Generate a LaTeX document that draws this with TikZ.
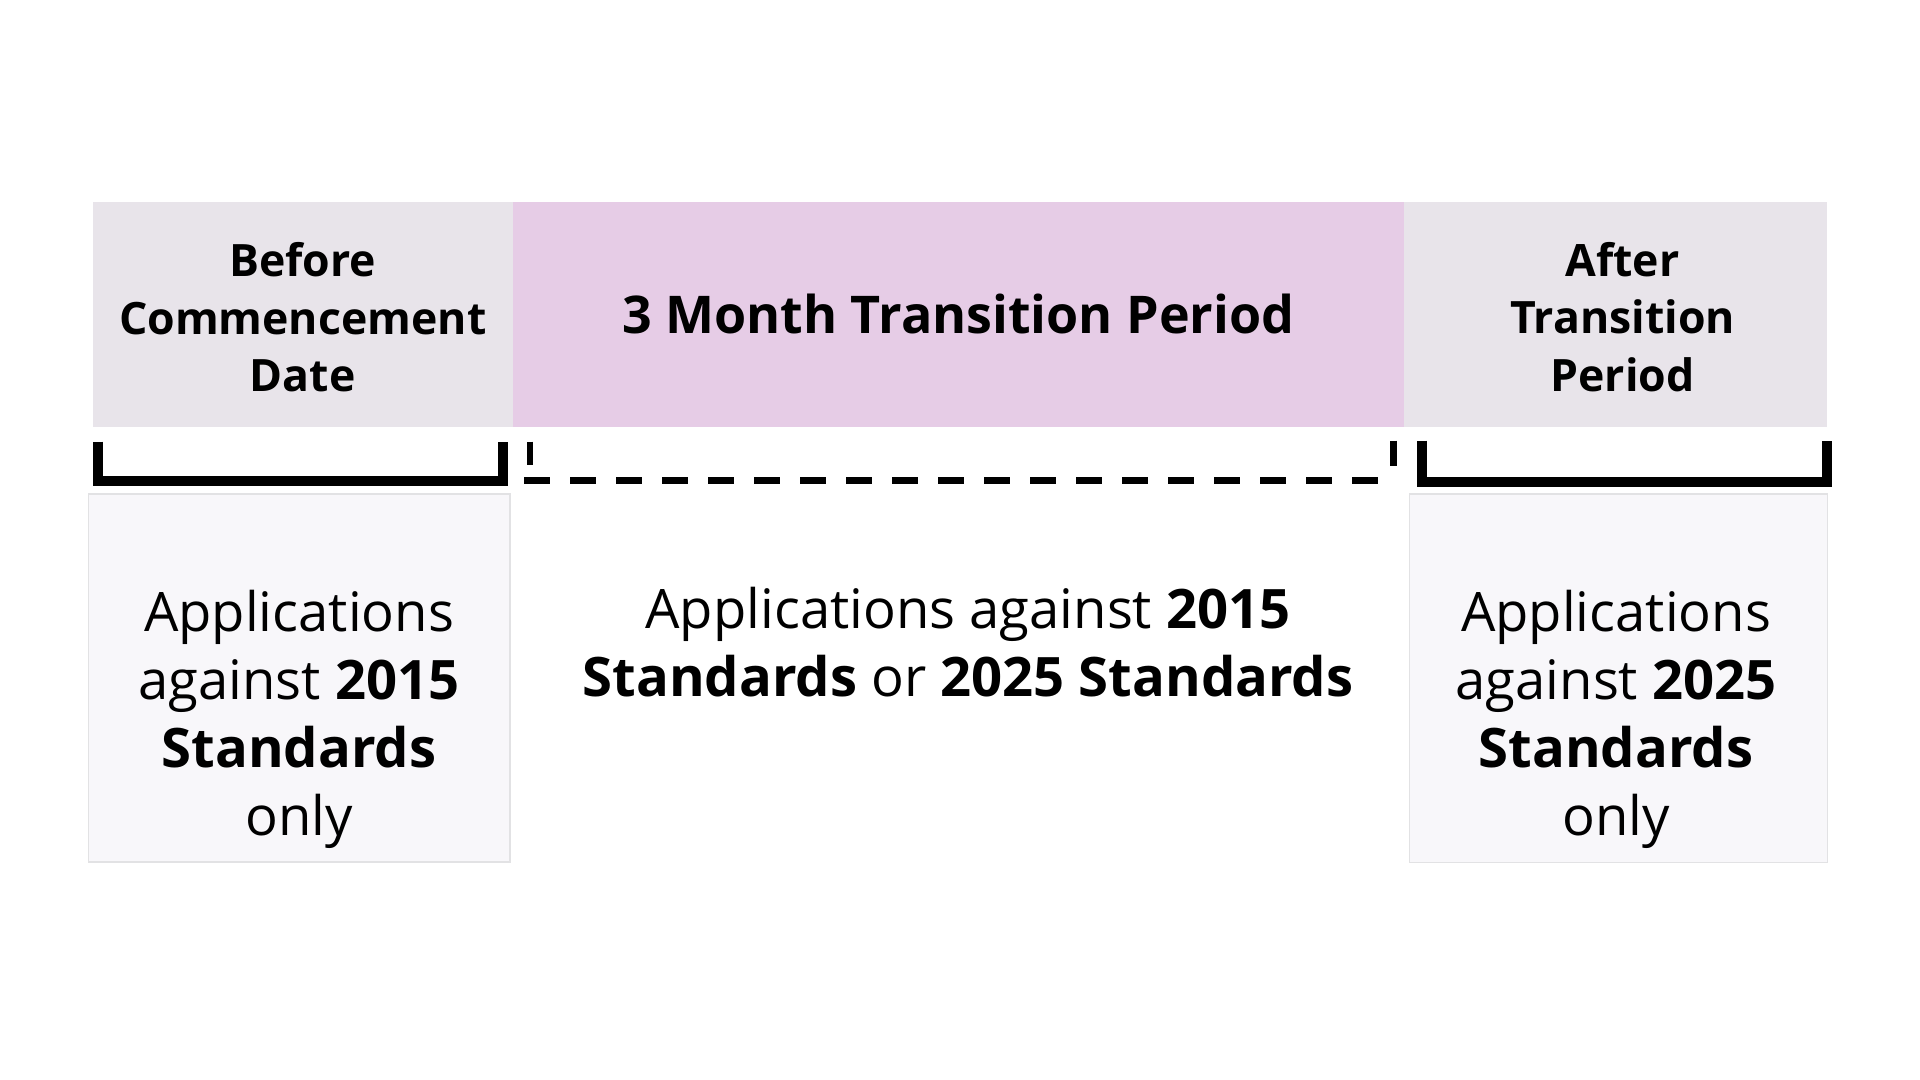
\documentclass[tikz,border=0pt]{standalone}
\usepackage{fontspec}
\setmainfont{Open Sans}
\definecolor{boxgray}{HTML}{E8E4EA}
\definecolor{boxpink}{HTML}{E6CCE6}
\definecolor{boxlight}{HTML}{F8F7FA}
\definecolor{boxedge}{HTML}{E2E2E4}
\begin{document}
\begin{tikzpicture}[x=0.5pt,y=-0.5pt,
  headbox/.style={inner sep=0pt, outer sep=0pt, anchor=north west, draw=none, align=center,
    minimum height=112.5pt},
  headtxt/.style={font=\fontsize{22.3}{28.75}\selectfont\bfseries},
  titletxt/.style={font=\fontsize{26}{30}\selectfont\bfseries},
  bodybox/.style={inner sep=0pt, outer sep=0pt, anchor=north west, fill=boxlight,
    draw=boxedge, line width=0.75pt, minimum height=184.2pt},
  bodytxt/.style={font=\fontsize{27.2}{34}\selectfont, align=center, inner sep=0pt},
  bracketline/.style={line width=5pt, line cap=butt, line join=miter},
  dashline/.style={line width=3.5pt, line cap=butt, dash pattern=on 13pt off 10pt},
  tickline/.style={line width=3.4pt, line cap=butt}]
\useasboundingbox[fill=white] (0,0) rectangle (1920,1080);

% header boxes
\node[headbox, fill=boxgray, minimum width=210pt] (before) at (92.7,201.7) {};
\node[headtxt, align=center, inner sep=0pt] (beforetxt) at ([yshift=-1.6pt]before.center)
  {Before\\Commencement\\Date};
\node[headbox, titletxt, fill=boxpink, minimum width=445.65pt] (transition) at (512.7,201.7)
  {3 Month Transition Period};
\node[headbox, fill=boxgray, minimum width=211.35pt] (after) at (1404,201.7) {};
\node[headtxt, align=center, inner sep=0pt] (aftertxt) at ([xshift=3.6pt,yshift=-1.3pt]after.center)
  {After\\Transition\\Period};

% brackets
\coordinate (bl1) at (97.7,441.7);
\coordinate (bl2) at (502.7,441.7);
\draw[bracketline] (bl1) -- (97.7,481) -- (502.7,481) -- (bl2);
\coordinate (br1) at (1421.7,440.7);
\coordinate (br2) at (1827.3,440.7);
\draw[bracketline] (br1) -- (1421.7,482) -- (1827.3,482) -- (br2);
\coordinate (dl) at (524,480.3);
\coordinate (dr) at (1397,480.3);
\draw[dashline] (dl) -- (dr);
\draw[tickline] (530,441.7) -- (530,465);
\draw[tickline] (1393.6,440.7) -- (1393.6,465.7);

% body boxes
\node[bodybox, minimum width=210.85pt] (leftbody) at (88.3,493.8) {};
\node[bodybox, minimum width=209pt] (rightbody) at (1409.3,494) {};

% body texts
\node[bodytxt] (lefttxt) at (299,719)
  {Applications\\against \textbf{2015}\\\textbf{Standards}\\only};
\node[bodytxt] (midtxt) at (968,642)
  {Applications against \textbf{2015}\\\textbf{Standards} or \textbf{2025 Standards}};
\node[bodytxt] (righttxt) at (1616,719.5)
  {Applications\\against \textbf{2025}\\\textbf{Standards}\\only};
\end{tikzpicture}
\end{document}
